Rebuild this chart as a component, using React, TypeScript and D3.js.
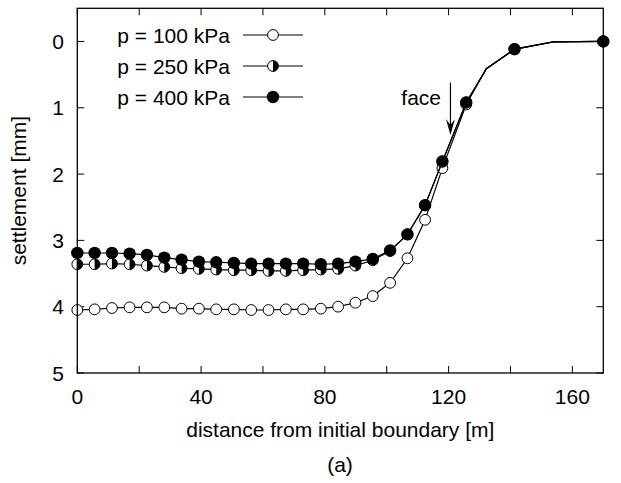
import React, { useEffect, useRef } from 'react';
import * as d3 from 'd3';

// marker positions along the section [m]
const distances = [
  0, 5.6, 11.2, 16.9, 22.5, 28.1, 33.7, 39.3, 44.9, 50.6, 56.2, 61.8, 67.4,
  73.0, 78.7, 84.3, 89.9, 95.5, 101.1, 106.7, 112.4, 118.0, 125.7, 141.3, 170,
];
// extra line vertices (no marker) in the shared tail
const tailDistances = [132.2, 153.9];
const tailSettlements = [0.41, 0.005];

const settle100 = [
  4.05, 4.04, 4.02, 4.01, 4.01, 4.01, 4.03, 4.03, 4.04, 4.04, 4.05, 4.05, 4.04,
  4.04, 4.03, 4.0, 3.94, 3.84, 3.64, 3.27, 2.69, 1.91, 0.95, 0.12, 0.0,
];
const settle250 = [
  3.36, 3.36, 3.35, 3.36, 3.38, 3.4, 3.42, 3.43, 3.44, 3.45, 3.45, 3.46, 3.46,
  3.45, 3.44, 3.43, 3.38, 3.3, 3.16, 2.91, 2.47, 1.81, 0.92, 0.115, 0.0,
];
const settle400 = [
  3.19, 3.19, 3.19, 3.2, 3.22, 3.26, 3.29, 3.32, 3.33, 3.34, 3.35, 3.35, 3.35,
  3.35, 3.36, 3.35, 3.32, 3.28, 3.15, 2.91, 2.47, 1.81, 0.92, 0.115, 0.0,
];

const seriesLabels = ['p = 100 kPa', 'p = 250 kPa', 'p = 400 kPa'];
const seriesMarkers = ['open', 'half', 'filled'];
const seriesValues = [settle100, settle250, settle400];

const xTicks = [0, 20, 40, 60, 80, 100, 120, 140, 160];
const xTickLabels = [0, 40, 80, 120, 160];
const yTicks = [0, 1, 2, 3, 4, 5];

const faceX = 120.6;
const faceFrom = 0.62;
const faceTo = 1.41;

function App() {
  const svgRef = useRef(null);

  useEffect(() => {
    const W = 621;
    const H = 483;
    const margin = { top: 8.3, right: 17.7, bottom: 110, left: 77.3 };
    const font = '"Liberation Sans", Arial, Helvetica, sans-serif';

    const svg = d3.select(svgRef.current).attr('width', W).attr('height', H);
    svg.selectAll('*').remove();

    const x = d3.scaleLinear().domain([0, 170]).range([margin.left, W - margin.right]);
    const y = d3.scaleLinear().domain([-0.5, 5]).range([margin.top, H - margin.bottom]);
    const [x0, x1] = x.range();
    const [y0, y1] = y.range();

    const g = svg.append('g');

    // ticks (inward, on all four sides)
    const tickLen = 7;
    xTicks.forEach((t) => {
      g.append('line').attr('x1', x(t)).attr('x2', x(t)).attr('y1', y1).attr('y2', y1 - tickLen)
        .attr('stroke', '#000').attr('stroke-width', 1);
      g.append('line').attr('x1', x(t)).attr('x2', x(t)).attr('y1', y0).attr('y2', y0 + tickLen)
        .attr('stroke', '#000').attr('stroke-width', 1);
    });
    yTicks.forEach((t) => {
      g.append('line').attr('x1', x0).attr('x2', x0 + tickLen).attr('y1', y(t)).attr('y2', y(t))
        .attr('stroke', '#000').attr('stroke-width', 1);
      g.append('line').attr('x1', x1).attr('x2', x1 - tickLen).attr('y1', y(t)).attr('y2', y(t))
        .attr('stroke', '#000').attr('stroke-width', 1);
    });

    // tick labels
    xTickLabels.forEach((t) => {
      g.append('text').attr('x', x(t)).attr('y', 404).attr('text-anchor', 'middle')
        .style('font-family', font).style('font-size', '21px').text(t);
    });
    yTicks.forEach((t) => {
      g.append('text').attr('x', 64).attr('y', y(t) + 7.5).attr('text-anchor', 'end')
        .style('font-family', font).style('font-size', '21px').text(t);
    });

    // axis titles
    g.append('text').attr('x', (x0 + x1) / 2).attr('y', 437).attr('text-anchor', 'middle')
      .style('font-family', font).style('font-size', '21px')
      .text('distance from initial boundary [m]');
    g.append('text').attr('transform', `translate(26,${(y0 + y1) / 2}) rotate(-90)`)
      .attr('text-anchor', 'middle')
      .style('font-family', font).style('font-size', '21px')
      .text('settlement [mm]');
    g.append('text').attr('x', 340).attr('y', 472).attr('text-anchor', 'middle')
      .style('font-family', font).style('font-size', '21px').text('(a)');

    const drawMarker = (sel, type, cx, cy) => {
      if (type === 'filled') {
        sel.append('circle').attr('cx', cx).attr('cy', cy).attr('r', 6.2).attr('fill', '#000');
      } else {
        const r = 5.4;
        sel.append('circle').attr('cx', cx).attr('cy', cy).attr('r', r)
          .attr('fill', '#fff').attr('stroke', '#000').attr('stroke-width', 1);
        if (type === 'half') {
          sel.append('path')
            .attr('d', `M${cx},${cy - r} A${r},${r} 0 0 1 ${cx},${cy + r} Z`)
            .attr('fill', '#000');
        }
      }
    };

    const line = d3.line().x((d) => x(d[0])).y((d) => y(d[1]));

    seriesValues.forEach((vals, si) => {
      const pts = distances.map((d, i) => [d, vals[i]]);
      tailDistances.forEach((d, i) => pts.push([d, tailSettlements[i]]));
      pts.sort((a, b) => a[0] - b[0]);
      g.append('path').attr('d', line(pts)).attr('fill', 'none')
        .attr('stroke', '#000').attr('stroke-width', 1.2);
      const mg = g.append('g');
      distances.forEach((d, i) => drawMarker(mg, seriesMarkers[si], x(d), y(vals[i])));
    });

    // legend
    const legendRows = [35, 66, 97];
    seriesLabels.forEach((lab, i) => {
      const ly = legendRows[i];
      g.append('text').attr('x', 230).attr('y', ly + 7.5).attr('text-anchor', 'end')
        .style('font-family', font).style('font-size', '21px').text(lab);
      g.append('line').attr('x1', 243).attr('x2', 303).attr('y1', ly).attr('y2', ly)
        .attr('stroke', '#000').attr('stroke-width', 1.2);
      drawMarker(g, seriesMarkers[i], 273, ly);
    });

    // face arrow
    const ax = x(faceX);
    const tipY = y(faceTo);
    g.append('line').attr('x1', ax).attr('x2', ax).attr('y1', y(faceFrom)).attr('y2', tipY - 6)
      .attr('stroke', '#000').attr('stroke-width', 1.2);
    g.append('path')
      .attr('d', `M${ax},${tipY} L${ax - 4.5},${tipY - 16} L${ax},${tipY - 10} L${ax + 4.5},${tipY - 16} Z`)
      .attr('fill', '#000');
    g.append('text').attr('x', 441).attr('y', 105).attr('text-anchor', 'end')
      .style('font-family', font).style('font-size', '21px').text('face');

    // frame
    g.append('rect').attr('x', x0).attr('y', y0).attr('width', x1 - x0).attr('height', y1 - y0)
      .attr('fill', 'none').attr('stroke', '#000').attr('stroke-width', 1.3);
  }, []);

  return (
    <div style={{ position: 'absolute', left: 0, top: 0, background: '#fff' }}>
      <svg ref={svgRef} style={{ display: 'block' }}></svg>
    </div>
  );
}

export default App;
